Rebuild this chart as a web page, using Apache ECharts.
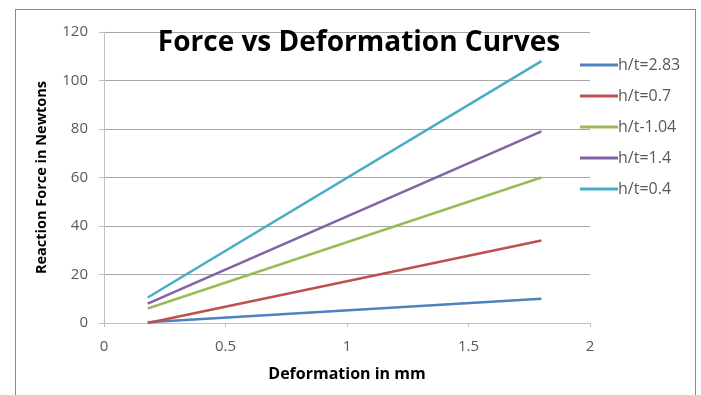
<!DOCTYPE html>
<html>
<head>
<meta charset="utf-8">
<script src="https://cdn.jsdelivr.net/npm/echarts@6/dist/echarts.min.js"></script>
<style>
  html, body { margin: 0; padding: 0; background: #fff; }
  #frame { position: absolute; left: 15px; top: 9px; width: 681px; height: 400px; border: 1px solid #8c8c8c; box-sizing: border-box; }
  #chart { position: absolute; left: 0; top: 0; width: 701px; height: 395px; }
</style>
</head>
<body>
<div id="frame"></div>
<div id="chart"></div>
<script>
// Deformation (mm) sample points shared by every curve
const deformation = [0.18, 1.8];

// Reaction force (N) for each h/t ratio
const seriesNames = ['h/t=2.83', 'h/t=0.7', 'h/t-1.04', 'h/t=1.4', 'h/t=0.4'];
const force_2_83 = [0.3, 10];
const force_0_7 = [0, 34];
const force_1_04 = [6, 60];
const force_1_4 = [8, 79];
const force_0_4 = [10.5, 108];

const seriesColors = ['#4F81BD', '#C0504D', '#9BBB59', '#8064A2', '#4BACC6'];
const seriesValues = [force_2_83, force_0_7, force_1_04, force_1_4, force_0_4];

const chart = echarts.init(document.getElementById('chart'), null, { renderer: 'canvas' });
const font = '"Open Sans", sans-serif';

chart.setOption({
  animation: false,
  title: {
    text: 'Force vs Deformation Curves',
    left: 354, top: 24, textAlign: 'center',
    textStyle: { fontFamily: font, fontWeight: 'bold', fontSize: 28, color: '#000' }
  },
  grid: { left: 104, right: 111, top: 32, bottom: 72 },
  legend: {
    orient: 'vertical',
    left: 575, top: 52,
    itemWidth: 38, itemHeight: 3, itemGap: 15,
    icon: 'rect',
    textStyle: { fontFamily: font, fontSize: 16, color: '#595959', padding: [0, 0, 0, -5] },
    data: seriesNames
  },
  xAxis: {
    type: 'value', min: 0, max: 2, interval: 0.5,
    name: 'Deformation in mm', nameLocation: 'middle', nameGap: 43,
    nameTextStyle: { fontFamily: font, fontWeight: 'bold', fontSize: 16, color: '#000' },
    axisLine: { show: true, lineStyle: { color: '#bfbfbf' } },
    axisTick: { show: true, length: 4, lineStyle: { color: '#bfbfbf' } },
    axisLabel: { fontFamily: font, fontSize: 15, color: '#595959', margin: 16 },
    splitLine: { show: false }
  },
  yAxis: {
    type: 'value', min: 0, max: 120, interval: 20,
    name: 'Reaction Force in Newtons', nameLocation: 'middle', nameGap: 55,
    nameTextStyle: { fontFamily: font, fontWeight: 'bold', fontSize: 14.5, color: '#000' },
    axisLine: { show: true, lineStyle: { color: '#bfbfbf' } },
    axisTick: { show: true, length: 5, lineStyle: { color: '#bfbfbf' } },
    axisLabel: { fontFamily: font, fontSize: 15, color: '#595959', margin: 16 },
    splitLine: { show: true, lineStyle: { color: '#a6a6a6', width: 1 } }
  },
  series: seriesNames.map((name, i) => ({
    name,
    type: 'line',
    data: deformation.map((x, j) => [x, seriesValues[i][j]]),
    showSymbol: false,
    symbol: 'none',
    lineStyle: { width: 2.5, color: seriesColors[i] },
    itemStyle: { color: seriesColors[i] }
  }))
});
</script>
</body>
</html>
